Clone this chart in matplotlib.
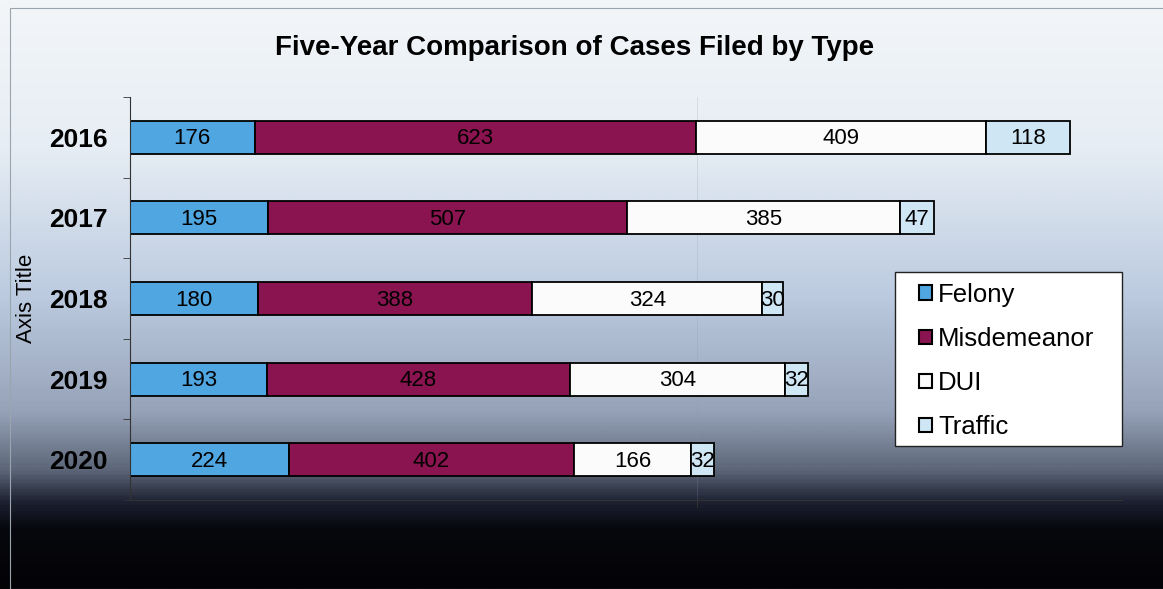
import numpy as np
import matplotlib
matplotlib.use("Agg")
import matplotlib.pyplot as plt
from matplotlib.colors import LinearSegmentedColormap
from matplotlib.patches import Patch, Rectangle

years = ["2016", "2017", "2018", "2019", "2020"]
felony = [176, 195, 180, 193, 224]
misdemeanor = [623, 507, 388, 428, 402]
dui = [409, 385, 324, 304, 166]
traffic = [118, 47, 30, 32, 32]
series_names = ["Felony", "Misdemeanor", "DUI", "Traffic"]
series_colors = ["#4fa6e0", "#8a1450", "#fbfbfb", "#cfe6f4"]
title = "Five-Year Comparison of Cases Filed by Type"

plt.rcParams['font.family'] = ['Liberation Sans', 'DejaVu Sans']

W, H = 1163, 589
fig = plt.figure(figsize=(W / 100, H / 100), dpi=100)

# background gradient
bg = fig.add_axes([0, 0, 1, 1], zorder=-10)
cmap = LinearSegmentedColormap.from_list("bg", [
    (0.00, "#f3f6f9"),
    (0.25, "#e6edf4"),
    (0.50, "#bccbe0"),
    (0.70, "#96a2b8"),
    (0.80, "#5c6678"),
    (0.855, "#1c2030"),
    (0.90, "#07080d"),
    (1.00, "#030306"),
])
grad = np.linspace(0, 1, 400).reshape(-1, 1)
bg.imshow(grad, aspect="auto", cmap=cmap, extent=[0, 1, 0, 1], origin="upper")
bg.set_xlim(0, 1); bg.set_ylim(0, 1)
bg.axis("off")
bg.add_patch(Rectangle((10 / W, 0), 1.2, 1 - 8 / H, fill=False,
                       edgecolor="#9aa4ad", linewidth=0.8))

ax = fig.add_axes([130 / W, 1 - 500 / H, 992 / W, 403 / H])
ax.patch.set_alpha(0)
y = np.arange(len(years))
left = np.zeros(len(years))
data = [felony, misdemeanor, dui, traffic]
for vals, name, col in zip(data, series_names, series_colors):
    ax.barh(y, vals, left=left, height=0.41, color=col,
            edgecolor="black", linewidth=1.3, label=name)
    for yi, l, v in zip(y, left, vals):
        ax.text(l + v / 2, yi + 0.02, str(v), ha="center", va="center",
                fontsize=16, color="black")
    left = left + np.array(vals)

ax.set_xlim(0, 1400)
ax.set_ylim(len(years) - 0.5, -0.5)
ax.set_yticks(y)
ax.set_yticklabels(years, fontsize=19, fontweight="bold")
ax.set_yticks(np.arange(-0.5, len(years), 1), minor=True)
ax.tick_params(axis="y", which="major", length=0, pad=16)
ax.tick_params(axis="y", which="minor", length=5, color="#333333", direction="out")
ax.set_xticks([800])
ax.set_xticklabels([])
ax.tick_params(axis="x", length=5, color="#333333")
ax.grid(axis="x", color="#8a96a8", linewidth=0.6, alpha=0.25)
ax.set_axisbelow(True)
for s in ["top", "right"]:
    ax.spines[s].set_visible(False)
ax.spines["left"].set_color("#333333")
ax.spines["bottom"].set_color("#333333")
ax.set_ylabel("Axis Title", fontsize=16)
ax.yaxis.set_label_coords((37 - 130) / 992, 0.5)

fig.text(575 / W, 1 - 48 / H, title, ha="center", va="center",
         fontsize=20, fontweight="bold")

# legend box
fig.add_artist(Rectangle((895 / W, 1 - 446 / H), 227 / W, 174 / H,
                         transform=fig.transFigure, facecolor="white",
                         edgecolor="#222222", linewidth=1.0, zorder=4))
handles = [Patch(facecolor=c, edgecolor="black", linewidth=1.5) for c in series_colors]
leg = fig.legend(handles, series_names, loc="center left",
                 bbox_to_anchor=(919 / W, 1 - 361 / H), fontsize=18.5,
                 handlelength=0.5, handleheight=0.5, handletextpad=0.25,
                 labelspacing=0.78, borderpad=0, borderaxespad=0,
                 frameon=False)
leg.set_zorder(5)

fig.savefig("out.png", dpi=100)
